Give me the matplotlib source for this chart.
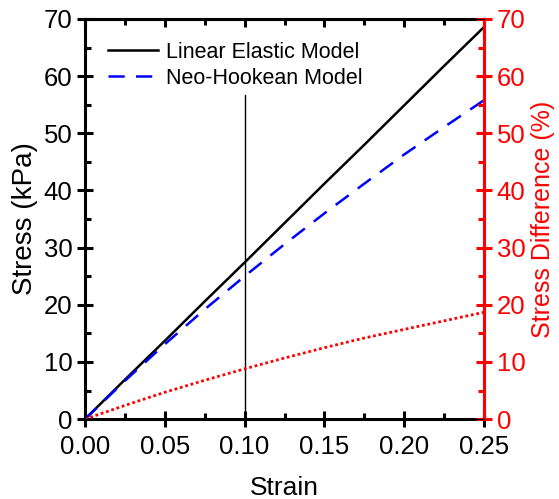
import numpy as np
import matplotlib.pyplot as plt
from matplotlib.ticker import MultipleLocator

plt.rcParams['font.family'] = ['Liberation Sans', 'DejaVu Sans']

# values
strain = [0.0, 0.025, 0.05, 0.075, 0.10, 0.125, 0.15, 0.175, 0.20, 0.225, 0.25]
linear_stress = [0.0, 6.9, 13.7, 20.6, 27.4, 34.3, 41.2, 48.0, 54.9, 61.8, 68.6]
neo_stress = [0.0, 6.7, 13.1, 19.2, 25.0, 30.6, 36.0, 41.2, 46.3, 51.1, 55.8]
diff_pct = [0.0, 2.4, 4.7, 6.8, 8.8, 10.7, 12.5, 14.2, 15.7, 17.2, 18.7]

marker_strain = 0.10
marker_top = 56.7

fig = plt.figure(figsize=(5.59, 4.99), dpi=100)
ax = fig.add_axes([0.152, 0.160, 0.714, 0.802])

ax.plot(strain, linear_stress, color='black', lw=1.8, label='Linear Elastic Model')
ax.plot(strain, neo_stress, color='blue', lw=1.8, ls=(0, (6.5, 4.5)), label='Neo-Hookean Model')
ax.plot([marker_strain, marker_strain], [0, marker_top], color='black', lw=1.0)

ax.set_xlim(0, 0.25)
ax.set_ylim(0, 70)
ax.xaxis.set_major_locator(MultipleLocator(0.05))
ax.xaxis.set_minor_locator(MultipleLocator(0.025))
ax.yaxis.set_major_locator(MultipleLocator(10))
ax.yaxis.set_minor_locator(MultipleLocator(5))
ax.xaxis.set_major_formatter(plt.FormatStrFormatter('%.2f'))
ax.tick_params(which='major', direction='inout', length=11, width=2.2, labelsize=18.5)
ax.tick_params(which='minor', direction='in', length=4, width=2.2)
ax.tick_params(axis='x', pad=6)
for s in ax.spines.values():
    s.set_linewidth(2.2)
ax.set_xlabel('Strain', fontsize=19, labelpad=12)
ax.set_ylabel('Stress (kPa)', fontsize=20, labelpad=4)

# top axis: inward ticks only
top = ax.secondary_xaxis('top')
top.xaxis.set_major_locator(MultipleLocator(0.05))
top.xaxis.set_minor_locator(MultipleLocator(0.025))
top.tick_params(which='major', direction='in', length=6, width=2.2, labeltop=False)
top.tick_params(which='minor', direction='in', length=4, width=2.2)
top.spines['top'].set_linewidth(2.2)

leg = ax.legend(loc='upper left', frameon=False, fontsize=15.5, handlelength=2.3,
                handletextpad=0.4, labelspacing=0.25, borderaxespad=0.0,
                bbox_to_anchor=(0.037, 0.965))

ax2 = ax.twinx()
ax2.plot(strain, diff_pct, color='red', lw=2.0, ls=(0, (1, 1)))
ax2.set_ylim(0, 70)
ax2.yaxis.set_major_locator(MultipleLocator(10))
ax2.yaxis.set_minor_locator(MultipleLocator(5))
ax2.tick_params(axis='y', which='major', direction='inout', length=11, width=2.2,
                labelsize=18.5, colors='red')
ax2.tick_params(axis='y', which='minor', direction='in', length=4, width=2.2, colors='red')
ax2.spines['right'].set_color('red')
ax2.spines['right'].set_linewidth(2.2)
ax2.set_ylabel('Stress Difference (%)', fontsize=18, color='red', labelpad=4)

fig.savefig('out.png', dpi=100)
